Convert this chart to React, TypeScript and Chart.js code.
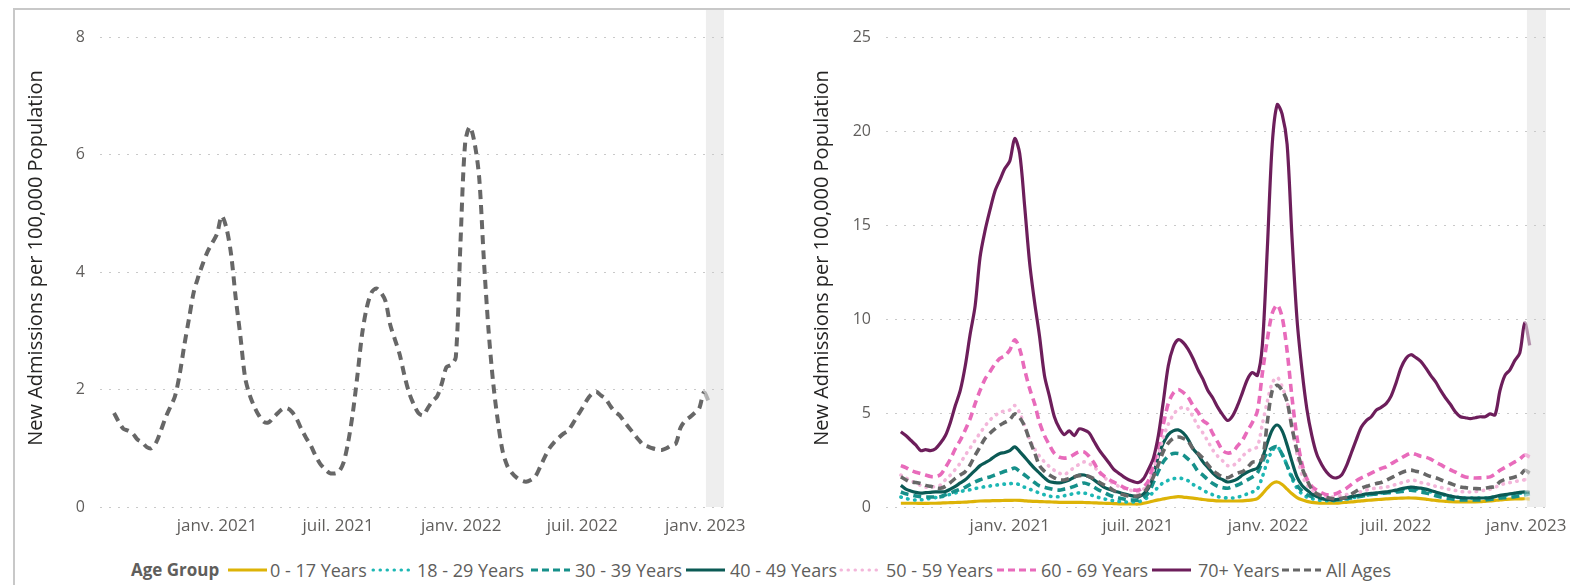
import React, { useEffect, useRef } from "react";
import { Chart, registerables } from "chart.js";

Chart.register(...registerables);

// x values are days counted from 1 Jan 2021; one point per week from 31 Jul 2020
const START_DAY = -154;
const WEEKS = 128;
const weekDays: number[] = Array.from({ length: WEEKS }, (_, k) => START_DAY + 7 * k);
const LAST = WEEKS - 1;

const X_MIN = -175;
const X_MAX = 758;
const BAND_START = 731;

const tickDays = [0, 181, 365, 546, 730];
const tickLabels = ["janv. 2021", "juil. 2021", "janv. 2022", "juil. 2022", "janv. 2023"];
const leftYTicks = [0, 2, 4, 6, 8];
const rightYTicks = [0, 5, 10, 15, 20, 25];

const Y_TITLE = "New Admissions per 100,000 Population";

const age0_17 = [
  0.2, 0.2, 0.2, 0.2, 0.19, 0.19, 0.2, 0.2, 0.21, 0.22,
  0.23, 0.24, 0.25, 0.26, 0.28, 0.3, 0.32, 0.33, 0.33, 0.34,
  0.34, 0.35, 0.35, 0.36, 0.35, 0.33, 0.31, 0.3, 0.29, 0.28,
  0.27, 0.26, 0.25, 0.25, 0.25, 0.25, 0.25, 0.24, 0.23, 0.22,
  0.21, 0.2, 0.19, 0.18, 0.17, 0.16, 0.16, 0.16, 0.16, 0.2,
  0.25, 0.32, 0.38, 0.43, 0.48, 0.52, 0.55, 0.53, 0.5, 0.47,
  0.44, 0.4, 0.37, 0.35, 0.33, 0.32, 0.32, 0.32, 0.32, 0.33,
  0.35, 0.38, 0.45, 0.7, 1.0, 1.25, 1.33, 1.2, 0.95, 0.7,
  0.5, 0.38, 0.3, 0.25, 0.22, 0.2, 0.2, 0.2, 0.21, 0.23,
  0.25, 0.27, 0.3, 0.33, 0.35, 0.37, 0.39, 0.41, 0.43, 0.45,
  0.46, 0.47, 0.48, 0.48, 0.47, 0.45, 0.42, 0.38, 0.35, 0.32,
  0.3, 0.28, 0.27, 0.27, 0.27, 0.27, 0.27, 0.28, 0.3, 0.32,
  0.35, 0.38, 0.4, 0.42, 0.43, 0.43, 0.44, 0.42,
];

const age18_29 = [
  0.53, 0.45, 0.4, 0.37, 0.38, 0.42, 0.46, 0.5, 0.53, 0.6,
  0.68, 0.75, 0.82, 0.88, 0.92, 0.98, 1.04, 1.08, 1.12, 1.16,
  1.19, 1.22, 1.24, 1.26, 1.18, 1.05, 0.95, 0.85, 0.74, 0.65,
  0.58, 0.54, 0.55, 0.6, 0.65, 0.72, 0.75, 0.74, 0.68, 0.58,
  0.5, 0.43, 0.38, 0.33, 0.3, 0.27, 0.27, 0.27, 0.27, 0.4,
  0.53, 0.8, 1.06, 1.3, 1.42, 1.5, 1.54, 1.5, 1.4, 1.2,
  1.06, 0.9, 0.76, 0.65, 0.55, 0.5, 0.48, 0.48, 0.52, 0.6,
  0.7, 0.8, 0.95, 1.6, 2.4, 3.0, 3.2, 2.8, 2.2, 1.5,
  1.0, 0.7, 0.53, 0.45, 0.38, 0.35, 0.33, 0.33, 0.35, 0.38,
  0.42, 0.47, 0.53, 0.58, 0.62, 0.66, 0.7, 0.74, 0.78, 0.82,
  0.86, 0.9, 0.95, 1.0, 0.96, 0.9, 0.86, 0.8, 0.74, 0.68,
  0.62, 0.57, 0.53, 0.5, 0.48, 0.48, 0.48, 0.48, 0.48, 0.5,
  0.53, 0.58, 0.62, 0.66, 0.7, 0.73, 0.75, 0.75,
];

const age30_39 = [
  0.8, 0.7, 0.64, 0.58, 0.55, 0.53, 0.53, 0.53, 0.55, 0.65,
  0.74, 0.85, 0.95, 1.05, 1.2, 1.33, 1.45, 1.54, 1.6, 1.7,
  1.8, 1.9, 1.97, 2.07, 1.9, 1.7, 1.5, 1.3, 1.12, 1.05,
  0.98, 0.92, 0.9, 0.95, 1.0, 1.1, 1.2, 1.28, 1.2, 1.06,
  0.9, 0.78, 0.65, 0.55, 0.48, 0.42, 0.37, 0.37, 0.37, 0.5,
  0.75, 1.3, 1.9, 2.4, 2.7, 2.85, 2.85, 2.77, 2.55, 2.3,
  1.9, 1.7, 1.45, 1.25, 1.1, 1.03, 1.0, 1.08, 1.17, 1.3,
  1.44, 1.6, 1.8, 2.4, 2.9, 3.14, 3.2, 2.8, 2.2, 1.6,
  1.15, 0.85, 0.65, 0.55, 0.5, 0.45, 0.4, 0.37, 0.37, 0.4,
  0.45, 0.48, 0.52, 0.57, 0.62, 0.66, 0.7, 0.72, 0.75, 0.78,
  0.8, 0.82, 0.86, 0.9, 0.86, 0.8, 0.75, 0.68, 0.6, 0.53,
  0.48, 0.44, 0.4, 0.38, 0.37, 0.37, 0.37, 0.37, 0.37, 0.4,
  0.44, 0.48, 0.5, 0.52, 0.55, 0.6, 0.64, 0.72,
];

const age40_49 = [
  1.15, 0.95, 0.85, 0.78, 0.74, 0.76, 0.78, 0.8, 0.8, 0.82,
  0.95, 1.1, 1.28, 1.45, 1.7, 1.95, 2.2, 2.35, 2.5, 2.7,
  2.85, 2.9, 3.0, 3.2, 2.95, 2.65, 2.35, 2.05, 1.8, 1.55,
  1.35, 1.3, 1.28, 1.35, 1.44, 1.58, 1.7, 1.7, 1.6, 1.44,
  1.25, 1.06, 0.95, 0.85, 0.78, 0.7, 0.64, 0.58, 0.53, 0.7,
  1.0, 1.7, 2.7, 3.4, 3.85, 4.05, 4.1, 3.94, 3.6, 3.1,
  2.8, 2.4, 2.1, 1.8, 1.58, 1.45, 1.33, 1.38, 1.5, 1.7,
  1.86, 1.97, 2.07, 2.6, 3.4, 4.1, 4.36, 4.05, 3.3, 2.4,
  1.6, 1.15, 0.9, 0.7, 0.55, 0.45, 0.4, 0.37, 0.4, 0.45,
  0.5, 0.55, 0.6, 0.65, 0.7, 0.72, 0.75, 0.78, 0.8, 0.85,
  0.9, 0.97, 1.02, 1.06, 1.03, 1.0, 0.95, 0.88, 0.8, 0.72,
  0.65, 0.58, 0.53, 0.5, 0.48, 0.48, 0.48, 0.48, 0.48, 0.5,
  0.55, 0.62, 0.66, 0.7, 0.74, 0.78, 0.8, 0.78,
];

const age50_59 = [
  1.7, 1.55, 1.4, 1.28, 1.15, 1.06, 1.06, 1.1, 1.17, 1.45,
  1.7, 2.0, 2.34, 2.75, 3.14, 3.55, 3.94, 4.3, 4.63, 4.85,
  5.05, 5.1, 5.16, 5.4, 5.0, 4.3, 3.6, 3.1, 2.7, 2.4,
  2.15, 1.95, 1.8, 1.72, 1.9, 2.1, 2.27, 2.4, 2.3, 2.15,
  1.85, 1.6, 1.38, 1.25, 1.1, 1.0, 0.92, 0.85, 0.8, 0.95,
  1.2, 2.0, 2.8, 3.7, 4.4, 4.9, 5.2, 5.3, 5.2, 4.8,
  4.3, 3.94, 3.5, 3.03, 2.7, 2.45, 2.2, 2.2, 2.4, 2.7,
  2.95, 3.1, 3.2, 4.4, 5.6, 6.6, 6.9, 6.4, 5.6, 4.2,
  2.8, 1.7, 1.2, 0.9, 0.75, 0.62, 0.55, 0.53, 0.56, 0.62,
  0.66, 0.72, 0.78, 0.82, 0.9, 0.97, 1.0, 1.03, 1.06, 1.12,
  1.2, 1.28, 1.35, 1.43, 1.4, 1.3, 1.25, 1.18, 1.1, 1.04,
  0.98, 0.92, 0.88, 0.83, 0.8, 0.8, 0.82, 0.85, 0.9, 0.95,
  1.05, 1.17, 1.25, 1.3, 1.35, 1.4, 1.45, 1.5,
];

const age60_69 = [
  2.2, 2.1, 1.95, 1.85, 1.78, 1.7, 1.62, 1.62, 1.72, 2.1,
  2.55, 3.1, 3.55, 4.1, 4.7, 5.5, 6.2, 6.8, 7.2, 7.6,
  7.9, 8.05, 8.35, 8.9, 8.4, 7.3, 6.3, 5.5, 4.5, 3.8,
  3.3, 2.85, 2.65, 2.6, 2.65, 2.8, 2.93, 2.93, 2.7, 2.35,
  1.9, 1.65, 1.47, 1.32, 1.2, 1.05, 0.95, 0.9, 0.9, 1.05,
  1.4, 2.3, 3.3, 4.4, 5.5, 6.05, 6.25, 6.1, 5.85, 5.4,
  5.05, 4.6, 4.4, 3.9, 3.45, 3.0, 2.87, 2.93, 3.25, 3.56,
  4.05, 4.5, 5.1, 7.1, 8.9, 10.3, 10.75, 10.1, 8.3, 5.8,
  3.7, 2.3, 1.5, 1.1, 0.9, 0.75, 0.65, 0.66, 0.72, 0.85,
  1.0, 1.2, 1.4, 1.55, 1.67, 1.8, 1.93, 2.05, 2.13, 2.3,
  2.45, 2.6, 2.75, 2.87, 2.8, 2.7, 2.65, 2.55, 2.38, 2.25,
  2.1, 1.97, 1.85, 1.7, 1.6, 1.56, 1.54, 1.55, 1.57, 1.6,
  1.75, 1.95, 2.1, 2.25, 2.4, 2.55, 2.77, 2.66,
];

const age70plus = [
  4.0, 3.8, 3.55, 3.3, 3.0, 3.05, 3.0, 3.1, 3.4, 3.8,
  4.5, 5.4, 6.2, 7.5, 9.2, 10.7, 13.3, 14.7, 15.8, 16.8,
  17.4, 18.0, 18.4, 19.6, 18.8, 16.0, 13.0, 10.9, 9.1, 7.0,
  5.9, 4.8, 4.2, 3.85, 4.05, 3.8, 4.15, 4.1, 3.95, 3.5,
  3.05, 2.7, 2.35, 2.0, 1.8, 1.6, 1.45, 1.35, 1.3, 1.5,
  2.0, 2.6, 3.8, 5.6, 7.5, 8.5, 8.9, 8.75, 8.4, 7.9,
  7.3, 6.8, 6.2, 5.8, 5.3, 4.9, 4.6, 4.85, 5.4, 6.1,
  6.8, 7.15, 7.0, 8.6, 13.7, 19.3, 21.4, 20.9, 19.3, 14.3,
  10.0, 7.3, 5.2, 3.8, 2.8, 2.25, 1.85, 1.6, 1.55, 1.7,
  2.2, 2.9, 3.6, 4.25, 4.6, 4.8, 5.15, 5.3, 5.5, 5.9,
  6.6, 7.4, 7.9, 8.1, 7.95, 7.75, 7.4, 7.0, 6.65, 6.2,
  5.8, 5.45, 5.05, 4.8, 4.75, 4.7, 4.75, 4.8, 4.8, 4.95,
  4.9, 6.2, 7.0, 7.3, 7.8, 8.2, 9.8, 8.6,
];

const allAges = [
  1.6, 1.45, 1.33, 1.3, 1.25, 1.15, 1.1, 1.02, 1.0, 1.1,
  1.3, 1.52, 1.7, 1.88, 2.25, 2.75, 3.2, 3.65, 3.92, 4.15,
  4.35, 4.5, 4.65, 4.95, 4.75, 4.3, 3.55, 2.9, 2.2, 1.9,
  1.7, 1.55, 1.45, 1.44, 1.52, 1.6, 1.67, 1.68, 1.62, 1.5,
  1.33, 1.18, 1.05, 0.88, 0.74, 0.65, 0.58, 0.57, 0.6, 0.75,
  1.1, 1.6, 2.25, 2.95, 3.4, 3.65, 3.72, 3.65, 3.5, 3.1,
  2.85, 2.6, 2.25, 1.95, 1.75, 1.6, 1.56, 1.68, 1.8, 1.88,
  2.1, 2.38, 2.42, 2.55, 4.5, 6.2, 6.47, 6.2, 5.6, 4.2,
  3.0, 2.1, 1.45, 0.95, 0.7, 0.58, 0.5, 0.45, 0.43, 0.46,
  0.52, 0.68, 0.85, 1.0, 1.1, 1.18, 1.25, 1.3, 1.42, 1.55,
  1.68, 1.82, 1.92, 1.96, 1.9, 1.84, 1.72, 1.62, 1.56, 1.45,
  1.35, 1.25, 1.15, 1.06, 1.03, 1.0, 0.98, 0.97, 1.0, 1.05,
  1.08, 1.35, 1.47, 1.53, 1.6, 1.68, 1.95, 1.8,
];

const seriesLabels = [
  "0 - 17 Years", "18 - 29 Years", "30 - 39 Years", "40 - 49 Years",
  "50 - 59 Years", "60 - 69 Years", "70+ Years", "All Ages",
];
const seriesValues = [age0_17, age18_29, age30_39, age40_49, age50_59, age60_69, age70plus, allAges];
const seriesColors = ["#DDB307", "#1DB7B4", "#16908A", "#0B5A55", "#F3B6DA", "#E86BBB", "#6D1E5B", "#676767"];
const seriesStyles = ["solid", "dotted", "dashed", "solid", "dotted", "dashed", "solid", "dashed"];

const FONT = '"Open Sans", "Noto Sans", sans-serif';
const TICK_COLOR = "#605E5C";

function fade(hex: string): string {
  const n = parseInt(hex.slice(1), 16);
  return `rgba(${(n >> 16) & 255}, ${(n >> 8) & 255}, ${n & 255}, 0.45)`;
}

function dashFor(style: string, big: boolean): number[] {
  if (style === "dotted") return [0.5, 6.5];
  if (style === "dashed") return big ? [9, 6] : [8, 5];
  return [];
}

function makeDataset(i: number, big: boolean) {
  const color = seriesColors[i];
  const style = seriesStyles[i];
  return {
    label: seriesLabels[i],
    data: seriesValues[i].map((v, k) => ({ x: weekDays[k], y: v })),
    borderColor: color,
    borderWidth: big ? 4 : style === "solid" ? 3.2 : 3.6,
    borderDash: dashFor(style, big),
    borderCapStyle: style === "dotted" ? "round" : "butt",
    borderJoinStyle: "round",
    pointRadius: 0,
    pointHoverRadius: 0,
    tension: 0.3,
    fill: false,
    order: 8 - i,
    segment: {
      borderColor: (ctx: any) => (ctx.p1DataIndex === LAST ? fade(color) : undefined),
    },
  };
}

const bandPlugin = {
  id: "band",
  beforeDraw(chart: any) {
    const { ctx, chartArea, scales } = chart;
    const x0 = scales.x.getPixelForValue(BAND_START);
    ctx.save();
    ctx.fillStyle = "#EEEEEE";
    ctx.fillRect(x0, 10, chartArea.right - x0, chartArea.bottom - 10);
    ctx.restore();
  },
};

const yTitlePlugin = {
  id: "yTitle",
  afterDraw(chart: any, _args: any, opts: any) {
    const ctx = chart.ctx;
    ctx.save();
    ctx.translate(opts.x, opts.y);
    ctx.rotate(-Math.PI / 2);
    ctx.font = `20px ${FONT}`;
    ctx.fillStyle = "#252423";
    ctx.textAlign = "center";
    ctx.textBaseline = "middle";
    ctx.fillText(Y_TITLE, 0, 0);
    ctx.restore();
  },
};

function makeOptions(yMax: number, yTicks: number[], yWidth: number, padRight: number, titleX: number) {
  return {
    responsive: false,
    animation: false,
    devicePixelRatio: 1,
    layout: { padding: { left: 0, right: padRight, top: 37, bottom: 0 } },
    plugins: {
      legend: { display: false },
      tooltip: { enabled: false },
      yTitle: { x: titleX, y: 258 },
    },
    scales: {
      x: {
        type: "linear",
        min: X_MIN,
        max: X_MAX,
        grid: { display: false, drawTicks: false },
        border: { display: false },
        afterBuildTicks: (s: any) => {
          s.ticks = tickDays.map((v) => ({ value: v }));
        },
        afterFit: (s: any) => {
          s.height = 38;
          s.paddingLeft = 0;
          s.paddingRight = 0;
        },
        ticks: {
          autoSkip: false,
          maxRotation: 0,
          padding: 9,
          color: TICK_COLOR,
          font: { family: FONT, size: 17 },
          callback: (v: number) => {
            const i = tickDays.indexOf(v);
            return i >= 0 ? tickLabels[i] : "";
          },
        },
      },
      y: {
        min: 0,
        max: yMax,
        grid: { color: "#C9C9C9", lineWidth: 1, drawTicks: false },
        border: { display: false, dash: [2, 7] },
        afterBuildTicks: (s: any) => {
          s.ticks = yTicks.map((v) => ({ value: v }));
        },
        afterFit: (s: any) => {
          s.width = yWidth;
          s.paddingTop = 0;
          s.paddingBottom = 0;
        },
        ticks: {
          padding: 15,
          color: TICK_COLOR,
          font: { family: FONT, size: 16 },
        },
      },
    },
  };
}

function LineCanvas(props: { left: number; width: number; build: () => any }) {
  const ref = useRef<HTMLCanvasElement | null>(null);
  useEffect(() => {
    if (!ref.current) return;
    const chart = new Chart(ref.current, props.build());
    return () => chart.destroy();
  }, []);
  return (
    <canvas
      ref={ref}
      width={props.width}
      height={545}
      style={{ position: "absolute", left: props.left, top: 0, width: props.width, height: 545 }}
    />
  );
}

const legendSampleX = [228, 371, 531, 686, 839, 997, 1152, 1282];
const legendTextX = [270, 417, 575, 730, 886, 1041, 1198, 1326];

function LegendSample(props: { i: number }) {
  const style = seriesStyles[props.i];
  const color = seriesColors[props.i];
  const dash = style === "dotted" ? "0.5 6.5" : style === "dashed" ? "7 4" : undefined;
  return (
    <svg width={39} height={8} style={{ position: "absolute", left: legendSampleX[props.i], top: 566 }}>
      <line
        x1={style === "dotted" ? 2 : 0}
        y1={4}
        x2={39}
        y2={4}
        stroke={color}
        strokeWidth={3}
        strokeDasharray={dash}
        strokeLinecap={style === "dotted" ? "round" : "butt"}
      />
    </svg>
  );
}

export default function App() {
  const buildLeft = () => ({
    type: "line",
    data: { datasets: [makeDataset(7, true)] },
    options: makeOptions(8, leftYTicks, 100, 36, 36),
    plugins: [bandPlugin, yTitlePlugin],
  });
  const buildRight = () => ({
    type: "line",
    data: { datasets: seriesLabels.map((_, i) => makeDataset(i, false)) },
    options: makeOptions(25, rightYTicks, 142, 24, 78),
    plugins: [bandPlugin, yTitlePlugin],
  });
  return (
    <div
      style={{
        position: "absolute",
        left: 0,
        top: 0,
        width: 1570,
        height: 585,
        overflow: "hidden",
        background: "#FFFFFF",
        fontFamily: FONT,
      }}
    >
      <div
        style={{
          position: "absolute",
          left: 13,
          top: 8,
          width: 1600,
          height: 620,
          borderTop: "2px solid #C8C8C8",
          borderLeft: "2px solid #C8C8C8",
        }}
      />
      <LineCanvas left={0} width={760} build={buildLeft} />
      <LineCanvas left={744} width={826} build={buildRight} />
      <div
        style={{
          position: "absolute",
          left: 131,
          top: 559,
          fontSize: 17,
          fontWeight: 700,
          color: "#5F5E5C",
          lineHeight: "22px",
          whiteSpace: "nowrap",
        }}
      >
        Age Group
      </div>
      {seriesLabels.map((label, i) => (
        <React.Fragment key={label}>
          <LegendSample i={i} />
          <div
            style={{
              position: "absolute",
              left: legendTextX[i],
              top: 559,
              fontSize: 18,
              color: TICK_COLOR,
              lineHeight: "22px",
              whiteSpace: "nowrap",
            }}
          >
            {label}
          </div>
        </React.Fragment>
      ))}
    </div>
  );
}
